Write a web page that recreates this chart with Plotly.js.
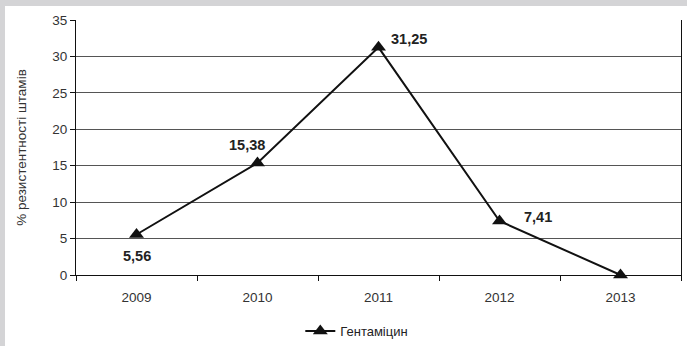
<!DOCTYPE html>
<html>
<head>
<meta charset="utf-8">
<script src="https://cdn.plot.ly/plotly-3.0.1.min.js"></script>
<style>
  html, body { margin: 0; padding: 0; background: #d4d4d6; }
  #chart { position: absolute; left: 5px; top: 6px; width: 682px; height: 340px; background: #fff; }
</style>
</head>
<body>
<div id="chart"></div>
<script>
// Gentamicin resistance of strains by year
const years = ['2009', '2010', '2011', '2012', '2013'];
const resistance = [5.56, 15.38, 31.25, 7.41, 0];
const seriesName = 'Гентаміцин';
const yTitle = '% резистентності штамів';

// label offsets (pixels) for each value label; 2013 has no label
const labelShift = [
  { dx: 0, dy: -22 },
  { dx: -11, dy: 18 },
  { dx: 30, dy: 8 },
  { dx: 38, dy: 4 },
  null
];

const fmt = v => v.toFixed(2).replace('.', ',');

const annotations = [];
for (let i = 0; i < resistance.length; i++) {
  if (!labelShift[i]) continue;
  annotations.push({
    x: i, y: resistance[i], xref: 'x', yref: 'y',
    text: '<b>' + fmt(resistance[i]) + '</b>',
    showarrow: false,
    xanchor: 'center', yanchor: 'middle',
    xshift: labelShift[i].dx, yshift: labelShift[i].dy,
    font: { family: 'Liberation Sans, Arial, sans-serif', size: 14.5, color: '#222' }
  });
}

const trace = {
  x: years, y: resistance,
  type: 'scatter', mode: 'lines+markers',
  name: seriesName,
  line: { color: '#111', width: 2 },
  marker: { symbol: 'triangle-up', size: 13, color: '#111' },
  cliponaxis: false
};

const layout = {
  width: 682, height: 340,
  margin: { l: 71, r: 6, t: 14, b: 71 },
  paper_bgcolor: '#fff', plot_bgcolor: '#fff',
  font: { family: 'Liberation Sans, Arial, sans-serif', size: 13, color: '#333' },
  showlegend: true,
  legend: {
    orientation: 'h',
    xref: 'container', yref: 'container',
    x: 0.433, xanchor: 'left', y: 0.044, yanchor: 'middle',
    font: { size: 13, color: '#222' }
  },
  xaxis: {
    type: 'category', range: [-0.5, 4.5],
    tickson: 'boundaries', ticks: 'outside', ticklen: 5, tickcolor: '#111',
    ticklabelstandoff: 10,
    showline: true, linecolor: '#111', linewidth: 1,
    showgrid: false, zeroline: false,
    tickfont: { size: 13.5, color: '#333' }
  },
  yaxis: {
    range: [0, 35], dtick: 5, tick0: 0,
    ticks: 'outside', ticklen: 5, tickcolor: '#111',
    showline: true, linecolor: '#111', linewidth: 1, mirror: true,
    showgrid: true, gridcolor: '#555', gridwidth: 1,
    zeroline: false,
    tickfont: { size: 13.5, color: '#333' },
    title: { text: yTitle, font: { size: 13.5, color: '#333' }, standoff: 22 }
  },
  annotations: annotations
};

Plotly.newPlot('chart', [trace], layout, { displayModeBar: false, staticPlot: true });
</script>
</body>
</html>
